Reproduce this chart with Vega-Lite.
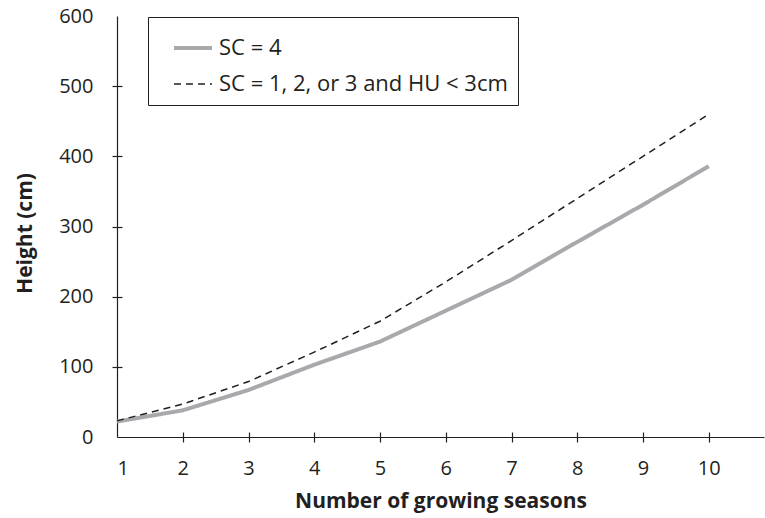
{
  "$schema": "https://vega.github.io/schema/vega-lite/v6.json",
  "autosize": "none",
  "width": 647,
  "height": 421,
  "padding": {"left": 117, "top": 16, "right": 1, "bottom": 81},
  "background": "white",
  "config": {
    "view": {"stroke": null},
    "font": "Open Sans",
    "axis": {"grid": false, "domainColor": "#231f20", "tickColor": "#231f20", "labelColor": "#231f20", "titleColor": "#231f20", "domainWidth": 1.2, "tickWidth": 1.2}
  },
  "data": {
    "values": [
      {"season": 1, "height": 22, "series": "SC = 4"},
      {"season": 2, "height": 38, "series": "SC = 4"},
      {"season": 3, "height": 67, "series": "SC = 4"},
      {"season": 4, "height": 103, "series": "SC = 4"},
      {"season": 5, "height": 136, "series": "SC = 4"},
      {"season": 6, "height": 180, "series": "SC = 4"},
      {"season": 7, "height": 224, "series": "SC = 4"},
      {"season": 8, "height": 278, "series": "SC = 4"},
      {"season": 9, "height": 331, "series": "SC = 4"},
      {"season": 10, "height": 386, "series": "SC = 4"},
      {"season": 1, "height": 23, "series": "SC = 1, 2, or 3 and HU < 3cm"},
      {"season": 2, "height": 47, "series": "SC = 1, 2, or 3 and HU < 3cm"},
      {"season": 3, "height": 79, "series": "SC = 1, 2, or 3 and HU < 3cm"},
      {"season": 4, "height": 121, "series": "SC = 1, 2, or 3 and HU < 3cm"},
      {"season": 5, "height": 165, "series": "SC = 1, 2, or 3 and HU < 3cm"},
      {"season": 6, "height": 221, "series": "SC = 1, 2, or 3 and HU < 3cm"},
      {"season": 7, "height": 280, "series": "SC = 1, 2, or 3 and HU < 3cm"},
      {"season": 8, "height": 340, "series": "SC = 1, 2, or 3 and HU < 3cm"},
      {"season": 9, "height": 400, "series": "SC = 1, 2, or 3 and HU < 3cm"},
      {"season": 10, "height": 460, "series": "SC = 1, 2, or 3 and HU < 3cm"}
    ]
  },
  "layer": [
    {
      "mark": {"type": "line"},
      "encoding": {
        "x": {"field": "season", "type": "quantitative",
          "scale": {"domain": [1, 10.84], "nice": false, "zero": false},
          "axis": {"orient": "bottom", "values": [1,2,3,4,5,6,7,8,9,10], "ticks": false, "tickSize": 0, "labelPadding": 21, "labelFontSize": 20, "title": "Number of growing seasons", "titleFontSize": 21, "titleFontWeight": "bold", "titlePadding": 12}},
        "y": {"field": "height", "type": "quantitative",
          "scale": {"domain": [0, 600], "nice": false},
          "axis": {"orient": "left", "values": [0,100,200,300,400,500,600], "ticks": false, "tickSize": 0, "labelPadding": 24, "labelFontSize": 20, "title": "Height (cm)", "titleFontSize": 21, "titleFontWeight": "bold", "titlePadding": 23, "titleY": 217}},
        "color": {"field": "series", "type": "nominal",
          "scale": {"domain": ["SC = 4", "SC = 1, 2, or 3 and HU < 3cm"], "range": ["#a7a9ac", "#231f20"]},
          "legend": {"orient": "none", "legendX": 31, "legendY": 1, "title": null, "strokeColor": "#231f20", "padding": 10, "symbolOffset": 14, "symbolType": "stroke", "symbolSize": 1444, "labelFontSize": 22, "labelColor": "#231f20", "labelLimit": 500, "rowPadding": 5, "labelOffset": 5}},
        "strokeDash": {"field": "series", "type": "nominal",
          "scale": {"domain": ["SC = 4", "SC = 1, 2, or 3 and HU < 3cm"], "range": [[1, 0], [7, 5]]},
          "legend": {"orient": "none", "legendX": 31, "legendY": 1, "title": null}},
        "strokeWidth": {"field": "series", "type": "nominal",
          "scale": {"domain": ["SC = 4", "SC = 1, 2, or 3 and HU < 3cm"], "range": [4, 1.5]},
          "legend": {"orient": "none", "legendX": 31, "legendY": 1, "title": null}}
      }
    },
    {
      "mark": {"type": "line", "strokeOpacity": 0},
      "encoding": {
        "x": {"field": "season", "type": "quantitative",
          "scale": {"domain": [1, 10.84], "nice": false, "zero": false},
          "axis": {"orient": "top", "values": [2,3,4,5,6,7,8,9,10], "labels": false, "domain": false, "title": null, "ticks": true, "tickSize": 10, "offset": -426}},
        "y": {"field": "height", "type": "quantitative",
          "scale": {"domain": [0, 600], "nice": false},
          "axis": {"orient": "right", "values": [100,200,300,400,500], "labels": false, "domain": false, "title": null, "ticks": true, "tickSize": 10, "offset": -652}},
        "detail": {"field": "series", "type": "nominal"}
      }
    }
  ],
  "resolve": {"axis": {"x": "independent", "y": "independent"}}
}
